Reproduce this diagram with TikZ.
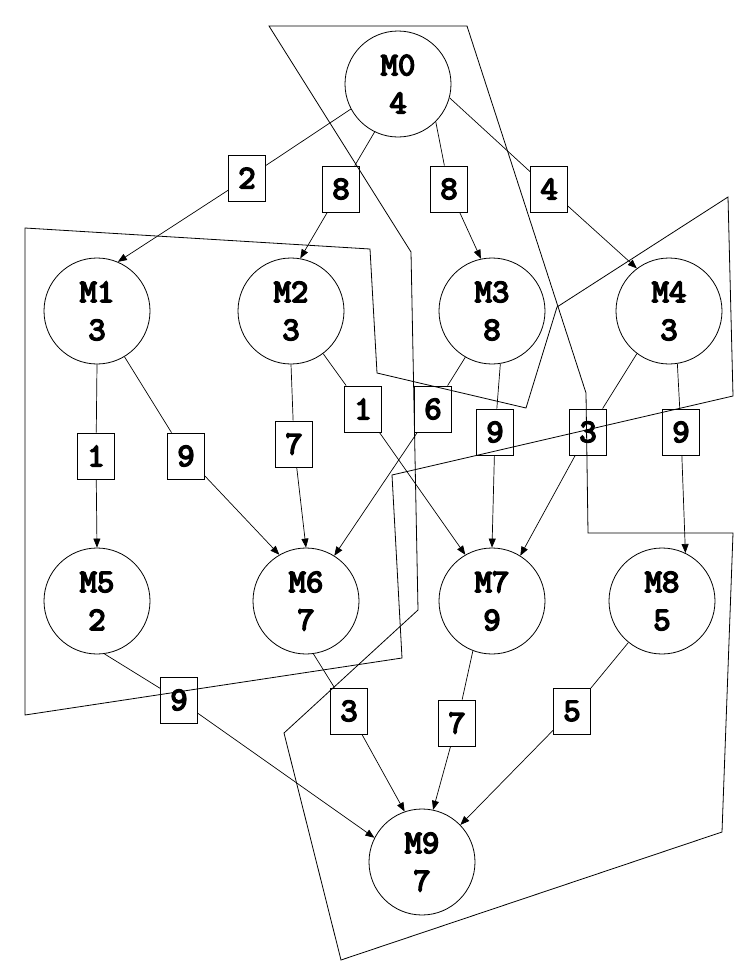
\documentclass[tikz,border=0pt]{standalone}
\usepackage{fontspec}
\newfontfamily\mfont[FakeBold=4.5]{lmmono10-regular.otf}
\usetikzlibrary{arrows.meta}
\begin{document}
\begin{tikzpicture}[x=1pt,y=-1pt,
  mnode/.style={circle,draw,line width=0.8pt,minimum size=106pt,inner sep=0pt,align=center,font=\mfont\fontsize{33}{38}\selectfont},
  wbox/.style={draw,line width=0.8pt,minimum width=37pt,minimum height=46pt,inner sep=0pt,font=\mfont\fontsize{33}{34}\selectfont},
  wline/.style={line width=0.7pt},
  arr/.style={wline,-{Triangle[length=9pt,width=7pt]}},
  partline/.style={line width=0.8pt,line join=miter}]
\useasboundingbox (0,0) rectangle (750,977);

% partition outlines
\draw[partline] (25,228) -- (370,249) -- (377,373) -- (526,408) -- (557,307) -- (728,197) -- (733,396) -- (392,475) -- (402,658) -- (25,715) -- cycle;
\draw[partline] (269,26) -- (467,26) -- (586,393) -- (588,533) -- (733,533) -- (722,832) -- (341,960) -- (284,733) -- (418,610) -- (411,252) -- cycle;

% task nodes
\node[mnode] (M0) at (398,84) {M0\\4};
\node[mnode] (M1) at (97,311) {M1\\3};
\node[mnode] (M2) at (291,311) {M2\\3};
\node[mnode] (M3) at (492,311) {M3\\8};
\node[mnode] (M4) at (669,311) {M4\\3};
\node[mnode] (M5) at (97,601) {M5\\2};
\node[mnode] (M6) at (306,601) {M6\\7};
\node[mnode] (M7) at (492,601) {M7\\9};
\node[mnode] (M8) at (662,601) {M8\\5};
\node[mnode] (M9) at (422,862) {M9\\7};

% weight boxes
\node[wbox] (w01) at (247,178) {2};
\node[wbox] (w02) at (341,189) {8};
\node[wbox] (w03) at (449,189) {8};
\node[wbox] (w04) at (549,189) {4};
\node[wbox] (w15) at (96,456) {1};
\node[wbox] (w16) at (186,456) {9};
\node[wbox] (w26) at (294,444) {7};
\node[wbox] (w27) at (363,409) {1};
\node[wbox] (w36) at (433,409) {6};
\node[wbox] (w37) at (495,432) {9};
\node[wbox] (w47) at (588,432) {3};
\node[wbox] (w48) at (681,432) {9};
\node[wbox] (w59) at (179,700) {9};
\node[wbox] (w69) at (349,711) {3};
\node[wbox] (w79) at (457,723) {7};
\node[wbox] (w89) at (572,711) {5};

% connectors
\draw[wline] (M0.208) -- (w01); \draw[arr] (w01) -- (M1.67);
\draw[wline] (M0.244) -- (w02); \draw[arr] (w02) -- (M2.80);
\draw[wline] (M0.-45) -- (w03); \draw[arr] (w03) -- (M3.102);
\draw[wline] (M0.-15) -- (w04); \draw[arr] (w04) -- (M4.127);
\draw[wline] (M1.-90) -- (w15); \draw[arr] (w15) -- (M5.90);
\draw[wline] (M1.-59) -- (w16); \draw[arr] (w16) -- (M6.120);
\draw[wline] (M2.-90) -- (w26); \draw[arr] (w26) -- (M6.90);
\draw[wline] (M2.-53) -- (w27); \draw[arr] (w27) -- (M7.120);
\draw[wline] (M3.240) -- (w36); \draw[arr] (w36) -- (M6.58);
\draw[wline] (M3.-81) -- (w37); \draw[arr] (w37) -- (M7.90);
\draw[wline] (M4.233) -- (w47); \draw[arr] (w47) -- (M7.58);
\draw[wline] (M4.-81) -- (w48); \draw[arr] (w48) -- (M8.64);
\draw[wline] (M5.-82) -- (w59); \draw[arr] (w59) -- (M9.153);
\draw[wline] (M6.-82) -- (w69); \draw[arr] (w69) -- (M9.109);
\draw[wline] (M7.-111) -- (w79); \draw[arr] (w79) -- (M9.78);
\draw[wline] (M8.-129) -- (w89); \draw[arr] (w89) -- (M9.44);
\end{tikzpicture}
\end{document}
